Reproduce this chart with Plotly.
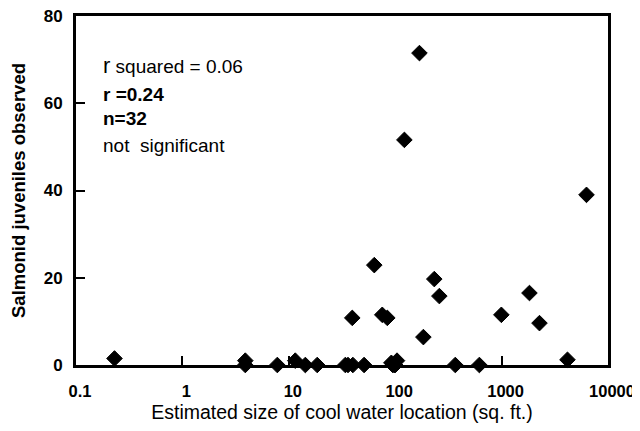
import plotly.graph_objects as go

# Data
size_sqft = [0.23, 3.9, 3.9, 7.8, 11.5, 14.3, 18.5, 36, 40, 51, 95, 104, 100,
             367, 618, 4160, 39.5, 63.6, 75.6, 84.3, 184, 233, 260, 995, 1827,
             2270, 169, 122, 6280, 34, 92, 98]
juveniles = [1.5, 0, 1, 0, 1, 0, 0, 0, 0, 0, 0, 1, 0,
             0, 0, 1.2, 10.8, 22.9, 11.5, 10.8, 6.4, 19.7, 15.8, 11.5, 16.5,
             9.6, 71.5, 51.6, 39, 0, 0.5, 0]

x_tickvals = [0.1, 1, 10, 100, 1000, 10000]
x_ticktext = ["0.1", "1", "10", "100", "1000", "10000"]
y_tickvals = [0, 20, 40, 60, 80]

stats_lines = [
    ("<span style='font-size:22px'>r</span> squared = 0.06", 0.857),
    ("<b>r =0.24</b>", 0.776),
    ("<b>n=32</b>", 0.705),
    ("not  significant", 0.628),
]

FONT = "Liberation Sans, Arial"

fig = go.Figure()
fig.add_trace(go.Scatter(
    x=size_sqft, y=juveniles, mode="markers",
    marker=dict(symbol="diamond", size=12, color="black",
                line=dict(color="black", width=1)),
    cliponaxis=False, showlegend=False,
))

for txt, yy in stats_lines:
    fig.add_annotation(text=txt, xref="paper", yref="paper", x=0.047, y=yy,
                       xanchor="left", yanchor="middle", showarrow=False,
                       font=dict(family=FONT, size=19, color="black"))

# page body has an 8px default margin, so the figure is sized to fit inside it
fig.update_layout(
    width=632, height=415,
    margin=dict(l=68, r=32, t=8, b=58),
    paper_bgcolor="white", plot_bgcolor="white",
    font=dict(family=FONT, color="black"),
)
fig.update_xaxes(
    type="log", range=[-1, 4], automargin=False,
    tickvals=x_tickvals, ticktext=x_ticktext,
    ticks="inside", ticklen=9, tickwidth=2, tickcolor="black",
    showline=True, linecolor="black", linewidth=3, mirror=True,
    showgrid=False, zeroline=False,
    tickfont=dict(family=FONT, size=16.5, color="black", weight="bold"),
    ticklabelstandoff=9, ticklabelshift=4, ticklabeloverflow="allow",
    title=dict(text="Estimated size of cool water location (sq. ft.)",
               font=dict(family=FONT, size=19.5, color="black"),
               standoff=8),
)
fig.update_yaxes(
    range=[0, 80], tickvals=y_tickvals, automargin=False,
    ticks="inside", ticklen=9, tickwidth=2, tickcolor="black",
    showline=True, linecolor="black", linewidth=3, mirror=True,
    showgrid=False, zeroline=False,
    tickfont=dict(family=FONT, size=17, color="black", weight="bold"),
    ticklabelstandoff=7, ticklabeloverflow="allow",
    title=dict(text="<b>Salmonid juveniles observed</b>",
               font=dict(family=FONT, size=18.5, color="black"),
               standoff=20),
)

fig.write_html("out.html")
